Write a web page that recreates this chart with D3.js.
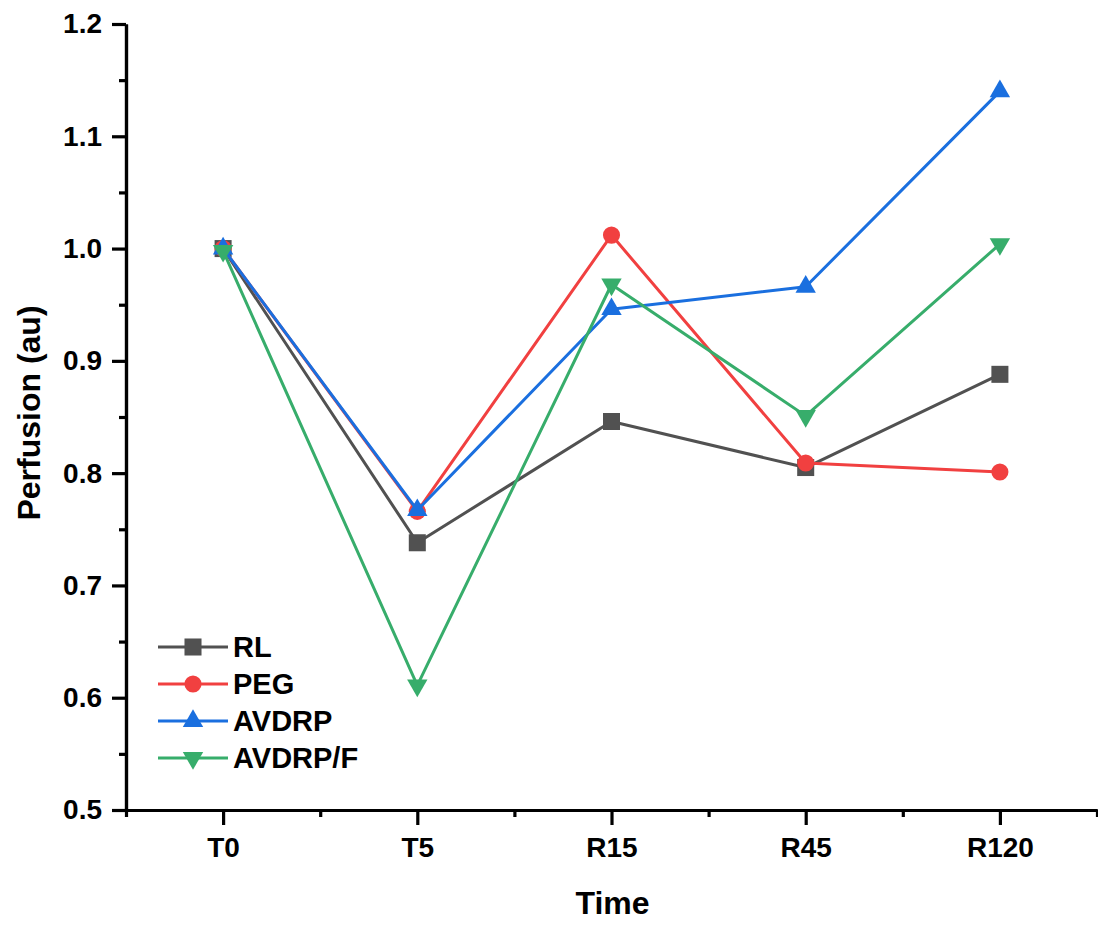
<!DOCTYPE html>
<html lang="en">
<head>
  <meta charset="UTF-8" />
  <title>Perfusion over time</title>
  <script src="https://d3js.org/d3.v7.min.js"></script>
  <style>
    html, body {
      margin: 0;
      padding: 0;
      background: #fff;
    }
    svg {
      display: block;
      font-family: "Liberation Sans", Arial, sans-serif;
      font-weight: bold;
    }
  </style>
</head>
<body>
  <svg width="1098" height="926"></svg>

  <script>
    // ---------------------------------------------------------
    // Data
    // ---------------------------------------------------------
    const categories = ["T0", "T5", "R15", "R45", "R120"];
    const rlValues     = [1.000, 0.738, 0.846, 0.805, 0.888];
    const pegValues    = [1.000, 0.766, 1.012, 0.809, 0.801];
    const avdrpValues  = [1.000, 0.767, 0.946, 0.966, 1.140];
    const avdrpfValues = [0.998, 0.611, 0.968, 0.851, 1.004];
    const seriesNames  = ["RL", "PEG", "AVDRP", "AVDRP/F"];
    const yTicks = [0.5, 0.6, 0.7, 0.8, 0.9, 1.0, 1.1, 1.2];

    const series = [
      { name: seriesNames[0], values: rlValues,     color: "#515151", shape: "square" },
      { name: seriesNames[1], values: pegValues,    color: "#F14040", shape: "circle" },
      { name: seriesNames[2], values: avdrpValues,  color: "#1A6FDF", shape: "up" },
      { name: seriesNames[3], values: avdrpfValues, color: "#37AD6B", shape: "down" }
    ];

    // ---------------------------------------------------------
    // Scales
    // ---------------------------------------------------------
    const svg = d3.select("svg");
    const plotLeft = 126, plotRight = 1097, plotTop = 24, plotBottom = 810;

    const x = d3.scalePoint()
      .domain(categories)
      .range([plotLeft, plotRight])
      .padding(0.5);

    // linear copy of x (by index) for the minor ticks between categories
    const xi = d3.scaleLinear()
      .domain([-0.5, categories.length - 0.5])
      .range([plotLeft, plotRight]);

    const y = d3.scaleLinear()
      .domain([0.5, 1.2])
      .range([plotBottom, plotTop]);

    // ---------------------------------------------------------
    // Axes
    // ---------------------------------------------------------
    const minorX = d3.range(-0.5, categories.length, 1);
    const minorY = d3.range(0.55, 1.2, 0.1);

    function styleAxis(sel, fontSize) {
      sel.selectAll(".domain").attr("stroke", "#000").attr("stroke-width", 3.2);
      sel.selectAll(".tick line").attr("stroke", "#000").attr("stroke-width", 3.2);
      sel.selectAll(".tick text")
        .attr("fill", "#000")
        .style("font-size", fontSize + "px")
        .style("font-family", "'Liberation Sans', Arial, sans-serif")
        .style("font-weight", "bold");
    }

    // minor ticks first, majors on top
    svg.append("g")
      .attr("transform", `translate(0,${plotBottom})`)
      .call(d3.axisBottom(xi).tickValues(minorX).tickSize(7).tickSizeOuter(0).tickFormat(""))
      .call(g => styleAxis(g, 28));

    svg.append("g")
      .attr("transform", `translate(${plotLeft},0)`)
      .call(d3.axisLeft(y).tickValues(minorY).tickSize(7).tickSizeOuter(0).tickFormat(""))
      .call(g => styleAxis(g, 28));

    svg.append("g")
      .attr("transform", `translate(0,${plotBottom})`)
      .call(d3.axisBottom(x).tickSize(15).tickSizeOuter(0).tickPadding(12))
      .call(g => styleAxis(g, 28));

    svg.append("g")
      .attr("transform", `translate(${plotLeft},0)`)
      .call(d3.axisLeft(y).tickValues(yTicks).tickSize(14).tickSizeOuter(0)
        .tickPadding(10).tickFormat(d3.format(".1f")))
      .call(g => styleAxis(g, 28));

    // axis titles
    svg.append("text")
      .attr("x", (plotLeft + plotRight) / 2 + 1)
      .attr("y", 914)
      .attr("text-anchor", "middle")
      .style("font-size", "32px")
      .text("Time");

    svg.append("text")
      .attr("transform", `translate(40,${(plotTop + plotBottom) / 2 - 4}) rotate(-90)`)
      .attr("text-anchor", "middle")
      .style("font-size", "32px")
      .text("Perfusion (au)");

    // ---------------------------------------------------------
    // Markers
    // ---------------------------------------------------------
    function markerPath(shape) {
      if (shape === "square") return d3.symbol(d3.symbolSquare, 290)();
      if (shape === "circle") return d3.symbol(d3.symbolCircle, 230)();
      return d3.symbol(d3.symbolTriangle, 180)();
    }
    function markerRotate(shape) {
      return shape === "down" ? " rotate(180)" : "";
    }

    // ---------------------------------------------------------
    // Series lines + points
    // ---------------------------------------------------------
    const line = d3.line()
      .x((d, i) => x(categories[i]))
      .y(d => y(d));

    series.forEach(s => {
      const g = svg.append("g");
      g.append("path")
        .datum(s.values)
        .attr("fill", "none")
        .attr("stroke", s.color)
        .attr("stroke-width", 3)
        .attr("stroke-linejoin", "round")
        .attr("d", line);

      g.selectAll("path.pt")
        .data(s.values)
        .join("path")
        .attr("class", "pt")
        .attr("d", markerPath(s.shape))
        .attr("fill", s.color)
        .attr("transform", (d, i) => `translate(${x(categories[i])},${y(d)})${markerRotate(s.shape)}`);
    });

    // ---------------------------------------------------------
    // Legend
    // ---------------------------------------------------------
    const legend = svg.append("g").attr("transform", "translate(158,647)");
    series.forEach((s, i) => {
      const row = legend.append("g").attr("transform", `translate(0,${i * 37})`);
      row.append("line")
        .attr("x1", 0).attr("x2", 70)
        .attr("stroke", s.color)
        .attr("stroke-width", 3);
      row.append("path")
        .attr("d", markerPath(s.shape))
        .attr("fill", s.color)
        .attr("transform", `translate(35,0)${markerRotate(s.shape)}`);
      row.append("text")
        .attr("x", 75)
        .attr("dy", "0.36em")
        .style("font-size", "29px")
        .text(s.name);
    });
  </script>
</body>
</html>
